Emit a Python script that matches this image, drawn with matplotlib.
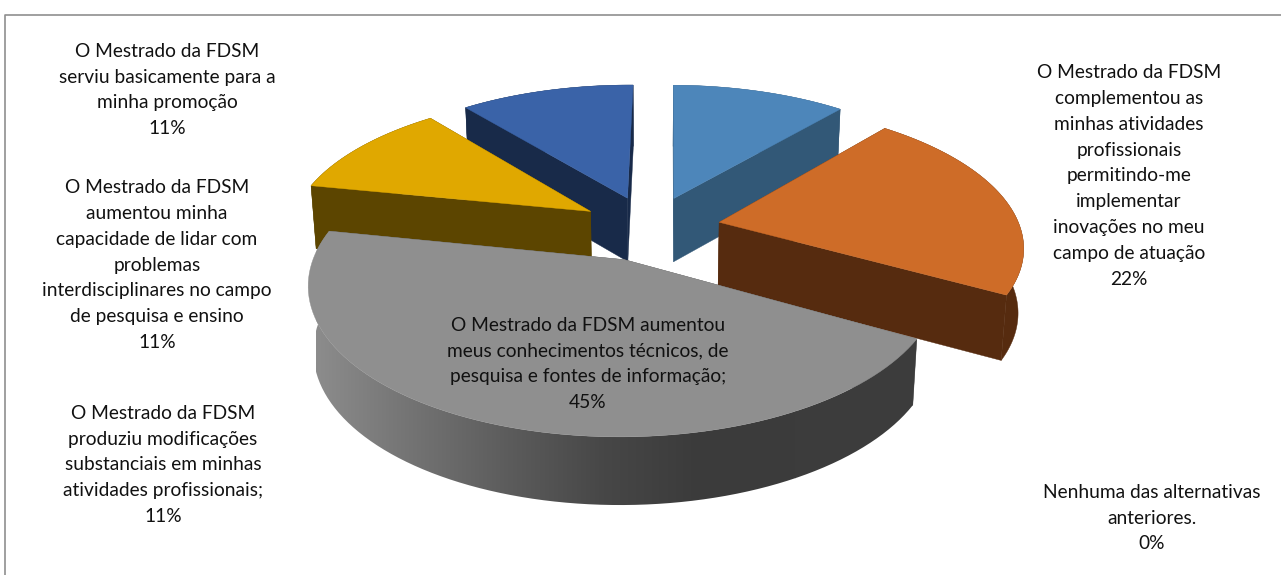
"""3D exploded pie, FDSM master's survey."""
import numpy as np
import matplotlib
matplotlib.use("Agg")
import matplotlib.pyplot as plt
from matplotlib.colors import LinearSegmentedColormap
from matplotlib.patches import Polygon

# ── Data (clockwise from 12 o'clock) ──────────────────────────────────────────
values = [11, 22, 0, 45, 11, 11]
labels = [
    "O Mestrado da FDSM\nproduziu modificações\nsubstanciais em minhas\natividades profissionais;",
    "O Mestrado da FDSM\ncomplementou as\nminhas atividades\nprofissionais\npermitindo-me\nimplementar\ninovações no meu\ncampo de atuação",
    "Nenhuma das alternativas\nanteriores.",
    "O Mestrado da FDSM aumentou\nmeus conhecimentos técnicos, de\npesquisa e fontes de informação;",
    "O Mestrado da FDSM\naumentou minha\ncapacidade de lidar com\nproblemas\ninterdisciplinares no campo\nde pesquisa e ensino",
    "O Mestrado da FDSM\nserviu basicamente para a\nminha promoção",
]
top_colors  = ["#4d86ba", "#ce6c28", "#888888", "#8f8f8f", "#e0a800", "#3a63a8"]
wall_colors = ["#325877", "#562b0f", "#444444", "#555555", "#5c4500", "#182a49"]
label_pos   = [(163, 465), (1129, 176), (1152, 518), (588, 364), (157, 265), (167, 90)]

# ── Projection config ─────────────────────────────────────────────────────────
CX, CY   = 650, 228
A, B     = 301, 139
PERSP    = 0.154
EXPLODE  = 0.235
DROP     = 64
ROTATE   = np.radians(0.6)
FONT     = 13.8
gray_ramp = LinearSegmentedColormap.from_list(
    "ramp", ["#8c8c8c", "#737373", "#5c5c5c", "#474747", "#3b3b3b", "#3c3c3c"])


def project(u, v):
    w = 1 + PERSP * v
    return CX + A * u / w, CY - B * v / w


def drop(x, y):
    return CX + (x - CX) * 0.985, CY + (y - CY) * 1.02 + DROP


def slice_top(start, stop, n=90):
    """Outline of the slice top, as apex and rim arrays in pixels."""
    mid = (start + stop) / 2
    off_u, off_v = EXPLODE * np.sin(mid), EXPLODE * np.cos(mid)
    t = np.linspace(start, stop, n)
    rim = project(off_u + np.sin(t), off_v + np.cos(t))
    return project(off_u, off_v), np.array(rim)


fig = plt.figure(figsize=(12.81, 5.75), dpi=100)
ax = fig.add_axes([0, 0, 1, 1])
ax.axis("off")
ax.plot([5, 5, 1281], [575, 14.5, 14.5], color="#8f8f8f", lw=1.2)

edges = ROTATE + 2 * np.pi * np.cumsum([0] + values) / sum(values)
slices = {}
for i, val in enumerate(values):
    if val > 0:
        slices[i] = slice_top(edges[i], edges[i + 1])

# back to front so the big grey slice ends up on top
for z, i in enumerate([0, 5, 1, 4, 3]):
    apex, rim = slices[i]
    apex_low = drop(*apex)
    rim_low = np.array(drop(*rim))
    zo = 2 + z * 0.1
    # radial walls
    for k in (0, -1):
        ax.add_patch(Polygon([apex, rim[:, k], rim_low[:, k], apex_low],
                             fc=wall_colors[i], ec=wall_colors[i], lw=0.3, zorder=zo))
    # outer wall, the grey one has a left to right ramp
    wall = np.column_stack([np.r_[rim[0], rim_low[0, ::-1]], np.r_[rim[1], rim_low[1, ::-1]]])
    if i == 3:
        patch = Polygon(wall, fc="none", ec="none", transform=ax.transData)
        ax.add_patch(patch)
        im = ax.imshow(np.linspace(0, 1, 256)[None, :], cmap=gray_ramp, aspect="auto",
                       extent=(316, 796, 520, 200), zorder=zo)
        # ramp stays at its last colour past the right end
        im2 = ax.imshow(np.ones((1, 2)), cmap=gray_ramp, vmin=0, vmax=1, aspect="auto",
                        extent=(795, 930, 520, 200), zorder=zo)
        im.set_clip_path(patch)
        im2.set_clip_path(patch)
    else:
        ax.add_patch(Polygon(wall, fc=wall_colors[i], ec=wall_colors[i], lw=0.3, zorder=zo))
    ax.add_patch(Polygon(np.column_stack([np.r_[apex[0], rim[0]], np.r_[apex[1], rim[1]]]),
                         fc=top_colors[i], ec=top_colors[i], lw=0.3, zorder=zo + 0.01))

for text, val, (x, y) in zip(labels, values, label_pos):
    ax.text(x, y, f"{text}\n{val}%", ha="center", va="center", fontsize=FONT,
            family="Lato", color="#111111", linespacing=1.64, zorder=5)

ax.set_xlim(0, 1281)
ax.set_ylim(575, 0)
fig.savefig("out.png", dpi=100)
